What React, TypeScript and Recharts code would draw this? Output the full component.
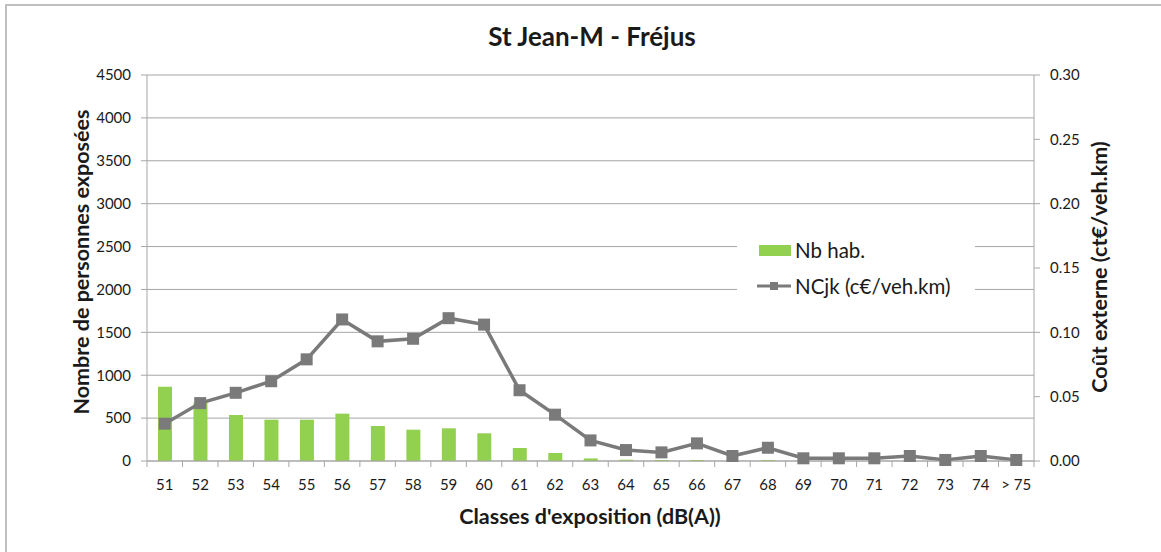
import React from 'react';
import { ComposedChart, Bar, Line, XAxis, YAxis, CartesianGrid, Legend } from 'recharts';

const categories = ['51', '52', '53', '54', '55', '56', '57', '58', '59', '60', '61', '62', '63', '64', '65', '66', '67', '68', '69', '70', '71', '72', '73', '74', '> 75'];
const nbHab = [866, 680, 536, 482, 482, 552, 408, 365, 381, 323, 152, 93, 30, 15, 12, 12, 2, 10, 0, 0, 0, 0, 0, 0, 0];
const ncjk = [0.029, 0.045, 0.053, 0.062, 0.079, 0.11, 0.093, 0.095, 0.111, 0.106, 0.055, 0.036, 0.016, 0.0085, 0.0067, 0.0137, 0.0039, 0.0103, 0.0021, 0.0021, 0.0021, 0.0039, 0.0008, 0.0039, 0.0008];
const leftTicks = [0, 500, 1000, 1500, 2000, 2500, 3000, 3500, 4000, 4500];
const rightTicks = [0, 0.05, 0.1, 0.15, 0.2, 0.25, 0.3];

const data = categories.map((c, i) => ({ cat: c, nb: nbHab[i], nc: ncjk[i] }));

const W = 1161;
const H = 552;
const M = { top: 75, right: 67, bottom: 51, left: 87 };
const YW = 60;
const plotW = W - M.left - M.right - 2 * YW;
const band = plotW / categories.length;
const FONT = 'Lato, "Open Sans", sans-serif';
const GRAY = '#7a7a7a';
const GREEN = '#92d050';
const TXT = '#1a1a1a';

const XTick = (props: any) => {
  const { x, y, payload, index } = props;
  const left = x - band / 2;
  const right = x + band / 2;
  return (
    <g>
      <line x1={left} x2={left} y1={y} y2={y + 6} stroke="#a6a6a6" strokeWidth={1} />
      {index === categories.length - 1 && (
        <line x1={right} x2={right} y1={y} y2={y + 6} stroke="#a6a6a6" strokeWidth={1} />
      )}
      <text x={x} y={y + 29} textAnchor="middle" fontSize={15} fill={TXT} fontFamily={FONT}>
        {payload.value}
      </text>
    </g>
  );
};

const SquareDot = (props: any) => {
  const { cx, cy, index } = props;
  if (cx == null || cy == null) return <g key={index} />;
  return <rect key={index} x={cx - 6} y={cy - 6} width={12} height={12} fill={GRAY} />;
};

const LegendContent = () => (
  <div style={{ background: '#fff', width: 238, height: 82, position: 'relative', fontFamily: FONT, fontSize: 20.5, color: TXT }}>
    <div style={{ position: 'absolute', left: 22, top: 10, display: 'flex', alignItems: 'center' }}>
      <div style={{ width: 32, height: 11, background: GREEN, marginRight: 4 }} />
      <span>Nb hab.</span>
    </div>
    <div style={{ position: 'absolute', left: 20, top: 46, display: 'flex', alignItems: 'center' }}>
      <svg width={34} height={12} style={{ marginRight: 4 }}>
        <line x1={0} x2={34} y1={6} y2={6} stroke={GRAY} strokeWidth={3} />
        <rect x={13} y={2} width={8} height={8} fill={GRAY} />
      </svg>
      <span>NCjk (c€/veh.km)</span>
    </div>
  </div>
);

export default function App() {
  return (
    <div style={{ position: 'absolute', left: 0, top: 0, width: W, height: H, background: '#fff', overflow: 'hidden' }}>
      <div style={{ position: 'absolute', left: 5, top: 4, width: W, height: H, borderLeft: '2px solid #bfbfbf', borderTop: '2px solid #bfbfbf' }} />
      <ComposedChart width={W} height={H} data={data} margin={M}>
        <CartesianGrid yAxisId="left" vertical={false} stroke="#a6a6a6" strokeWidth={1} />
        <XAxis
          dataKey="cat"
          height={40}
          tick={<XTick />}
          tickLine={false}
          tickSize={0}
          tickMargin={0}
          axisLine={{ stroke: '#a6a6a6' }}
          interval={0}
        />
        <YAxis
          yAxisId="left"
          width={YW}
          domain={[0, 4500]}
          ticks={leftTicks}
          interval={0}
          tickSize={6}
          tickMargin={10}
          axisLine={{ stroke: '#a6a6a6' }}
          tickLine={{ stroke: '#a6a6a6' }}
          tick={{ fontSize: 15, fill: TXT, fontFamily: FONT }}
        />
        <YAxis
          yAxisId="right"
          orientation="right"
          width={YW}
          domain={[0, 0.3]}
          ticks={rightTicks}
          interval={0}
          tickSize={6}
          tickMargin={10}
          tickFormatter={(v: number) => v.toFixed(2)}
          axisLine={{ stroke: '#a6a6a6' }}
          tickLine={{ stroke: '#a6a6a6' }}
          tick={{ fontSize: 15, fill: TXT, fontFamily: FONT }}
        />
        <Bar yAxisId="left" dataKey="nb" name="Nb hab." fill={GREEN} barSize={14} isAnimationActive={false} />
        <Line
          yAxisId="right"
          dataKey="nc"
          name="NCjk (c€/veh.km)"
          stroke={GRAY}
          strokeWidth={3.5}
          dot={SquareDot}
          activeDot={false}
          isAnimationActive={false}
        />
        <Legend
          layout="vertical"
          align="center"
          verticalAlign="middle"
          content={<LegendContent />}
          wrapperStyle={{ left: 737, top: 228, width: 238, height: 82 }}
        />
      </ComposedChart>
      <div style={{ position: 'absolute', left: 0, width: 1184, top: 20, textAlign: 'center', fontFamily: FONT, fontWeight: 700, fontSize: 26, color: TXT }}>
        St Jean-M - Fréjus
      </div>
      <div style={{ position: 'absolute', left: 0, width: 1180, top: 503, textAlign: 'center', fontFamily: FONT, fontWeight: 700, fontSize: 21.5, color: TXT }}>
        Classes d'exposition (dB(A))
      </div>
      <div style={{ position: 'absolute', left: 81, top: 262, width: 0, height: 0 }}>
        <div style={{ position: 'absolute', transform: 'translate(-50%, -50%) rotate(-90deg)', whiteSpace: 'nowrap', fontFamily: FONT, fontWeight: 700, fontSize: 21.5, color: TXT }}>
          Nombre de personnes exposées
        </div>
      </div>
      <div style={{ position: 'absolute', left: 1099, top: 267, width: 0, height: 0 }}>
        <div style={{ position: 'absolute', transform: 'translate(-50%, -50%) rotate(-90deg)', whiteSpace: 'nowrap', fontFamily: FONT, fontWeight: 700, fontSize: 21.5, color: TXT }}>
          Coût externe (ct€/veh.km)
        </div>
      </div>
    </div>
  );
}
